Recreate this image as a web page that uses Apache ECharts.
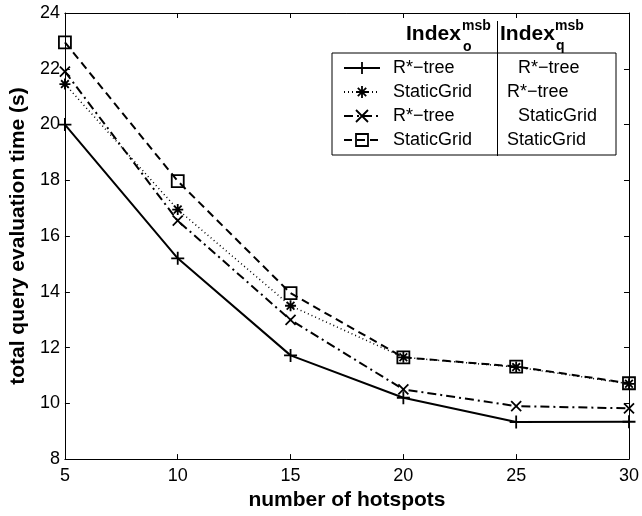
<!DOCTYPE html>
<html>
<head>
<meta charset="utf-8">
<script src="https://cdn.jsdelivr.net/npm/echarts@6/dist/echarts.min.js"></script>
<style>html,body{margin:0;padding:0;background:#fff;}#c{width:642px;height:516px;}</style>
</head>
<body>
<div id="c"></div>
<script>
// ---- data ----
const hotspots = [5, 10, 15, 20, 25, 30];
const rtreeRtree = [20.0, 15.2, 11.72, 10.2, 9.33, 9.34];
const gridRtree = [21.45, 16.95, 13.5, 11.65, 11.3, 10.7];
const rtreeGrid = [21.9, 16.55, 12.99, 10.5, 9.9, 9.82];
const gridGrid = [22.95, 17.97, 13.95, 11.65, 11.32, 10.72];
const legendIndexO = ['R*\u2212tree', 'StaticGrid', 'R*\u2212tree', 'StaticGrid'];
const legendIndexQ = ['R*\u2212tree', 'R*\u2212tree', 'StaticGrid', 'StaticGrid'];
const xTitle = 'number of hotspots';
const yTitle = 'total query evaluation time (s)';

// ---- styling ----
const FONT = "'Liberation Sans', Arial, Helvetica, sans-serif";
const colQIndent = ['bi', 'b', 'bi', 'b'];
const seriesNames = ['s1', 's2', 's3', 's4'];
const pairs = arr => hotspots.map((x, i) => [x, arr[i]]);

const symPlus = 'path://M0,5L10,5M5,0L5,10';
const symCross = 'path://M0,0L10,10M0,10L10,0';
const symStar = 'path://M0,5L10,5M5,0L5,10M1.5,1.5L8.5,8.5M1.5,8.5L8.5,1.5';

function mk(name, data, symbol, size, dash, width) {
  return {
    name, type: 'line', data: pairs(data), symbol, symbolSize: size,
    showAllSymbol: true, animation: false,
    lineStyle: { color: '#000', width: width, type: dash },
    itemStyle: { color: 'transparent', borderColor: '#000', borderWidth: 1.8 },
    emphasis: { disabled: true }
  };
}

const chart = echarts.init(document.getElementById('c'), null, { renderer: 'canvas' });
const axisCommon = {
  type: 'value',
  axisLine: { show: true, lineStyle: { color: '#000', width: 1 } },
  axisTick: { show: true, inside: true, length: 5, lineStyle: { color: '#000' } },
  splitLine: { show: false }
};
chart.setOption({
  animation: false,
  backgroundColor: '#fff',
  grid: { left: 61, right: 9, top: 13, bottom: 53 },
  xAxis: [
    Object.assign({}, axisCommon, {
      min: 5, max: 30, interval: 5, position: 'bottom',
      axisLabel: { color: '#000', fontSize: 18, fontFamily: FONT, margin: 8 },
      name: xTitle, nameLocation: 'middle', nameGap: 30,
      nameTextStyle: { color: '#000', fontSize: 21, fontWeight: 'bold', fontFamily: FONT }
    }),
    Object.assign({}, axisCommon, {
      min: 5, max: 30, interval: 5, position: 'top',
      axisLabel: { show: false }
    })
  ],
  yAxis: [
    Object.assign({}, axisCommon, {
      min: 8, max: 24, interval: 2, position: 'left',
      axisLabel: { color: '#000', fontSize: 18, fontFamily: FONT, margin: 5 },
      name: yTitle, nameLocation: 'middle', nameGap: 29, nameRotate: 90,
      nameTextStyle: { color: '#000', fontSize: 21, fontWeight: 'bold', fontFamily: FONT }
    }),
    Object.assign({}, axisCommon, {
      min: 8, max: 24, interval: 2, position: 'right',
      axisLabel: { show: false }
    })
  ],
  legend: {
    left: 332, top: 53, orient: 'vertical',
    data: seriesNames,
    backgroundColor: '#fff',
    borderColor: '#000', borderWidth: 1,
    padding: [6, 5, 6, 11],
    itemWidth: 36, itemHeight: 15, itemGap: 6,
    selectedMode: false,
    itemStyle: { borderWidth: 1.8 },
    formatter: function (name) {
      const i = seriesNames.indexOf(name);
      return '{a|' + legendIndexO[i] + '}{' + colQIndent[i] + '|' + legendIndexQ[i] + '}';
    },
    textStyle: {
      color: '#000', fontSize: 18, fontFamily: FONT,
      rich: {
        a: { width: 108, padding: [0, 0, 0, 8], fontSize: 18, fontFamily: FONT, color: '#000', lineHeight: 20 },
        b: { width: 104, padding: [0, 0, 0, 6], fontSize: 18, fontFamily: FONT, color: '#000', lineHeight: 20 },
        bi: { width: 93, padding: [0, 0, 0, 17], fontSize: 18, fontFamily: FONT, color: '#000', lineHeight: 20 }
      }
    }
  },
  graphic: [
    { type: 'line', shape: { x1: 497.5, y1: 21, x2: 497.5, y2: 156 }, style: { stroke: '#000', lineWidth: 1 }, z: 100 },
    { type: 'text', x: 406, y: 34, style: { text: 'Index', font: 'bold 21px ' + FONT, fill: '#000', verticalAlign: 'middle' }, z: 100 },
    { type: 'text', x: 462, y: 26, style: { text: 'msb', font: 'bold 14px ' + FONT, fill: '#000', verticalAlign: 'middle' }, z: 100 },
    { type: 'text', x: 463, y: 47, style: { text: 'o', font: 'bold 14px ' + FONT, fill: '#000', verticalAlign: 'middle' }, z: 100 },
    { type: 'text', x: 500, y: 34, style: { text: 'Index', font: 'bold 21px ' + FONT, fill: '#000', verticalAlign: 'middle' }, z: 100 },
    { type: 'text', x: 555, y: 26, style: { text: 'msb', font: 'bold 14px ' + FONT, fill: '#000', verticalAlign: 'middle' }, z: 100 },
    { type: 'text', x: 556, y: 46, style: { text: 'q', font: 'bold 14px ' + FONT, fill: '#000', verticalAlign: 'middle' }, z: 100 }
  ],
  series: [
    mk('s1', rtreeRtree, symPlus, 13, 'solid', 2),
    mk('s2', gridRtree, symStar, 11, [1, 3], 1.5),
    mk('s3', rtreeGrid, symCross, 10, [9, 4, 2, 4], 2),
    mk('s4', gridGrid, 'rect', 12, [8, 5], 2)
  ]
});
</script>
</body>
</html>
